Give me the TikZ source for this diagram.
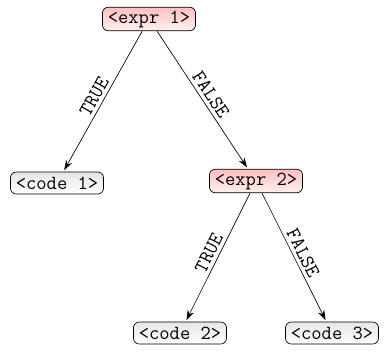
\documentclass[tikz,border=0pt]{standalone}
\usetikzlibrary{arrows.meta}
\begin{document}
\begin{tikzpicture}[x=0.6pt,y=-0.6pt,
  exprbox/.style={draw, rounded corners=3.5pt, top color=red!25, bottom color=red!6, font=\ttfamily\large, inner xsep=3.2pt, inner ysep=2pt, minimum height=13.2pt},
  codebox/.style={draw, rounded corners=3.5pt, top color=gray!20, bottom color=white, font=\ttfamily\large, inner xsep=3.2pt, inner ysep=2pt, minimum height=13.2pt},
  edgelbl/.style={sloped, above, font=\ttfamily\large, inner sep=2pt},
  conn/.style={-{Stealth[length=6pt,width=4pt]}, shorten >=1pt}]
\useasboundingbox (0,0) rectangle (385,354);
\node[exprbox] (e1) at (149,19) {<expr 1>};
\node[codebox] (c1) at (57,183) {<code 1>};
\node[exprbox] (e2) at (256,181) {<expr 2>};
\node[codebox] (c2) at (180,333) {<code 2>};
\node[codebox] (c3) at (332,333) {<code 3>};
\draw[conn] (e1) -- node[edgelbl]{TRUE} (c1);
\draw[conn] (e1) -- node[edgelbl]{FALSE} (e2);
\draw[conn] (e2) -- node[edgelbl]{TRUE} (c2);
\draw[conn] (e2) -- node[edgelbl]{FALSE} (c3);
\end{tikzpicture}
\end{document}
